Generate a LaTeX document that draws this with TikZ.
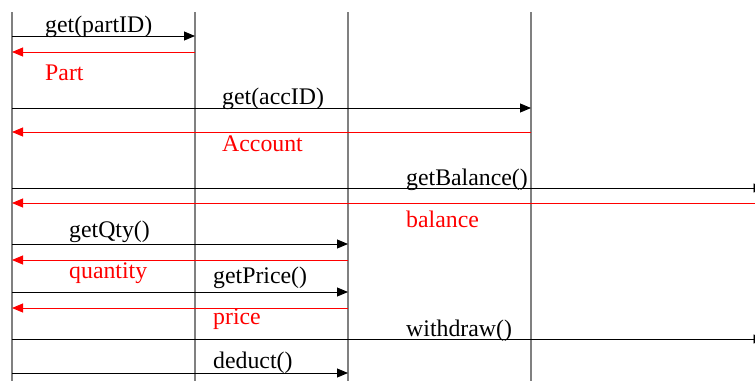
\documentclass[tikz,border=0pt]{standalone}
\usepackage{fontspec}
\setmainfont{Liberation Serif}
\usetikzlibrary{arrows.meta}
\begin{document}
\begin{tikzpicture}[x=1pt,y=-1pt,
  lifeline/.style={draw=black!50, line width=1.5pt},
  callmsg/.style={draw=black, line width=0.9pt, -{Triangle[length=11pt,width=9pt]}},
  retmsg/.style={draw=red, line width=0.9pt, -{Triangle[length=11pt,width=9pt]}},
  calltxt/.style={anchor=base west, inner sep=0pt, text=black, font=\fontsize{23.8}{28}\selectfont},
  rettxt/.style={anchor=base west, inner sep=0pt, text=red, font=\fontsize{23.8}{28}\selectfont}]
\useasboundingbox (0,0) rectangle (755,381);
% lifelines
\coordinate (A) at (12,12);  \coordinate (Ab) at (12,381);
\coordinate (B) at (195,12); \coordinate (Bb) at (195,381);
\coordinate (C) at (348,12); \coordinate (Cb) at (348,381);
\coordinate (D) at (531,12); \coordinate (Db) at (531,381);
\draw[lifeline] (A) -- (Ab);
\draw[lifeline] (B) -- (Bb);
\draw[lifeline] (C) -- (Cb);
\draw[lifeline] (D) -- (Db);
% message endpoints
\coordinate (m1a) at (12,36);  \coordinate (m1b) at (195,36);
\coordinate (r1a) at (195,52); \coordinate (r1b) at (12,52);
\coordinate (m2a) at (12,108); \coordinate (m2b) at (531,108);
\coordinate (r2a) at (531,132); \coordinate (r2b) at (12,132);
\coordinate (m3a) at (12,188); \coordinate (m3b) at (764.5,188);
\coordinate (r3a) at (760,203); \coordinate (r3b) at (12,203);
\coordinate (m4a) at (12,244); \coordinate (m4b) at (348,244);
\coordinate (r4a) at (348,260); \coordinate (r4b) at (12,260);
\coordinate (m5a) at (12,292); \coordinate (m5b) at (348,292);
\coordinate (r5a) at (348,308); \coordinate (r5b) at (12,308);
\coordinate (m6a) at (12,339); \coordinate (m6b) at (764.5,339);
\coordinate (m7a) at (12,373); \coordinate (m7b) at (348,373);
\draw[callmsg] (m1a) -- (m1b);
\draw[retmsg] (r1a) -- (r1b);
\draw[callmsg] (m2a) -- (m2b);
\draw[retmsg] (r2a) -- (r2b);
\draw[callmsg] (m3a) -- (m3b);
\draw[retmsg] (r3a) -- (r3b);
\draw[callmsg] (m4a) -- (m4b);
\draw[retmsg] (r4a) -- (r4b);
\draw[callmsg] (m5a) -- (m5b);
\draw[retmsg] (r5a) -- (r5b);
\draw[callmsg] (m6a) -- (m6b);
\draw[callmsg] (m7a) -- (m7b);
% labels
\node[calltxt] (t1) at (45,32) {get(partID)};
\node[rettxt] (u1) at (45,80) {Part};
\node[calltxt] (t2) at (222,104) {get(accID)};
\node[rettxt] (u2) at (222,151) {Account};
\node[calltxt] (t3) at (406,185) {getBalance()};
\node[rettxt] (u3) at (406,227) {balance};
\node[calltxt] (t4) at (69,237) {getQty()};
\node[rettxt] (u4) at (69,278) {quantity};
\node[calltxt] (t5) at (213,283) {getPrice()};
\node[rettxt] (u5) at (213,324) {price};
\node[calltxt] (t6) at (406,336) {withdraw()};
\node[calltxt] (t7) at (213,368) {deduct()};
\end{tikzpicture}
\end{document}
